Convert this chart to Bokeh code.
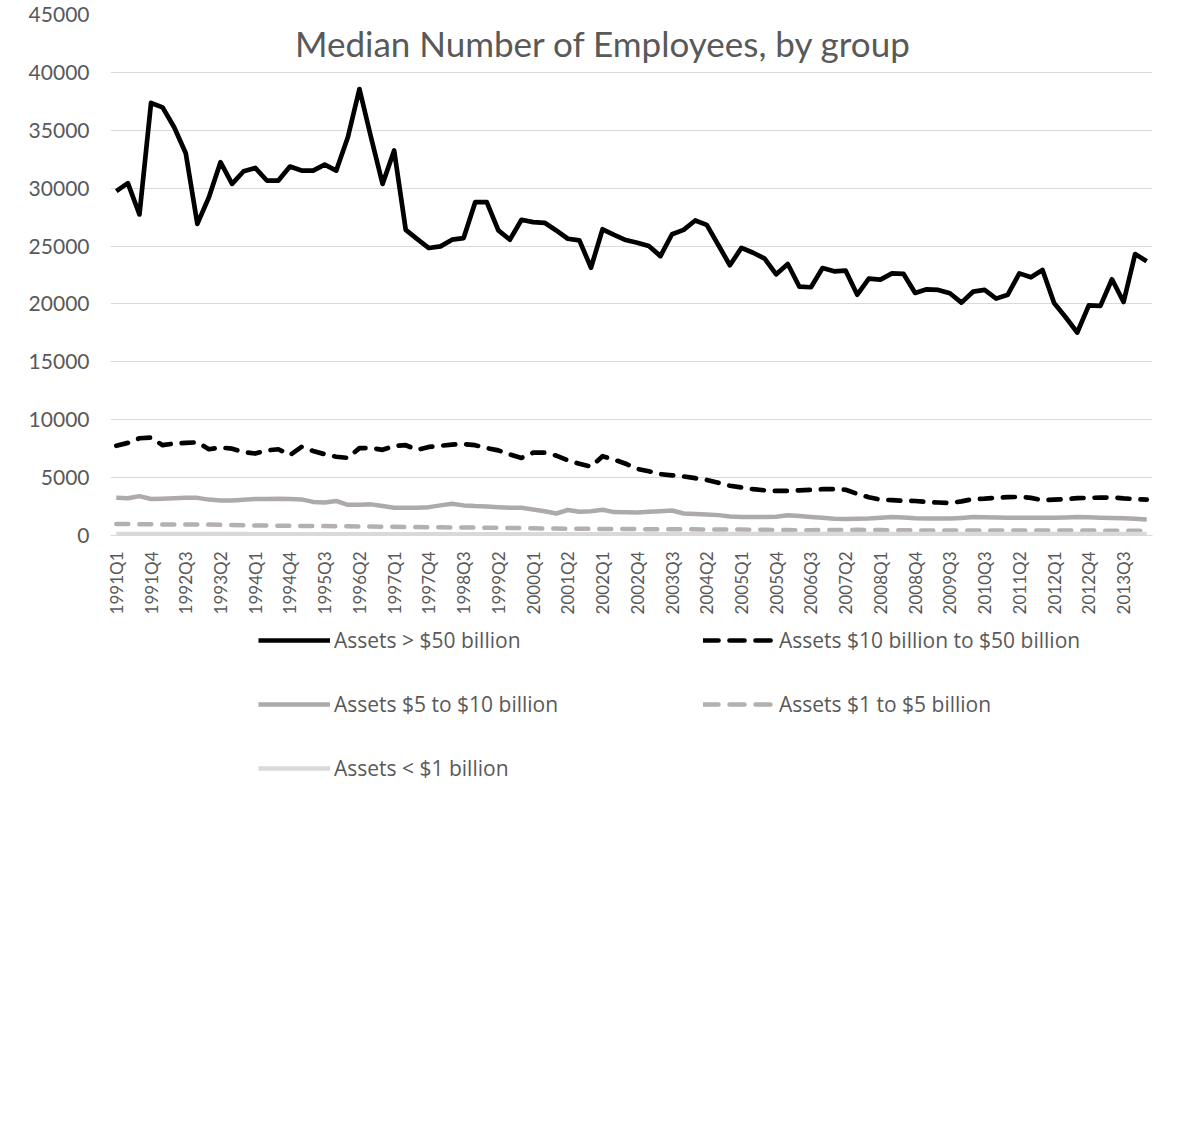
import math
from bokeh.plotting import figure
from bokeh.layouts import column
from bokeh.models import Range1d, FixedTicker, Legend, LegendItem, Label, BasicTickFormatter
from bokeh.embed import file_html
from bokeh.resources import INLINE

# ---------------- data ----------------
tick_labels = ["1991Q1", "1991Q4", "1992Q3", "1993Q2", "1994Q1", "1994Q4", "1995Q3",
               "1996Q2", "1997Q1", "1997Q4", "1998Q3", "1999Q2", "2000Q1", "2001Q2",
               "2002Q1", "2002Q4", "2003Q3", "2004Q2", "2005Q1", "2005Q4", "2006Q3",
               "2007Q2", "2008Q1", "2008Q4", "2009Q3", "2010Q3", "2011Q2", "2012Q1",
               "2012Q4", "2013Q3"]

assets_gt50 = [29740, 30430, 27730, 37360, 36980, 35260, 33020, 26920, 29220, 32240,
               30370, 31460, 31750, 30660, 30660, 31870, 31520, 31520, 32040, 31520,
               34400, 38560, 34400, 30370, 33250, 26400, 25600, 24830, 24970, 25550,
               25690, 28790, 28790, 26350, 25550, 27270, 27070, 27010, 26350, 25630,
               25490, 23130, 26450, 25960, 25520, 25290, 25000, 24130, 26020, 26400,
               27210, 26830, 25090, 23340, 24850, 24420, 23920, 22560, 23450, 21490,
               21440, 23100, 22820, 22870, 20800, 22180, 22100, 22640, 22590, 20950,
               21260, 21210, 20920, 20110, 21060, 21210, 20460, 20800, 22640, 22300,
               22930, 20080, 18850, 17530, 19880, 19830, 22130, 20170, 24310, 23680]

assets_10_50 = [7750, 8000, 8400, 8450, 7800, 7950, 8000, 8050, 7450, 7600,
                7500, 7200, 7080, 7350, 7450, 6950, 7650, 7300, 7020, 6800,
                6700, 7550, 7550, 7400, 7750, 7800, 7400, 7650, 7750, 7850,
                7900, 7800, 7550, 7350, 7000, 6700, 7150, 7150, 6900, 6500,
                6200, 5950, 6850, 6550, 6200, 5750, 5550, 5300, 5200, 5100,
                4950, 4800, 4550, 4300, 4150, 4000, 3900, 3850, 3850, 3900,
                3950, 4000, 4000, 3950, 3600, 3300, 3100, 3050, 3000, 2980,
                2900, 2850, 2800, 2950, 3150, 3180, 3250, 3320, 3330, 3250,
                3050, 3100, 3150, 3230, 3250, 3270, 3280, 3200, 3150, 3100]

assets_5_10 = [3270, 3210, 3400, 3150, 3180, 3210, 3250, 3250, 3100, 3030,
               3030, 3080, 3150, 3160, 3180, 3150, 3120, 2900, 2850, 2980,
               2650, 2650, 2690, 2550, 2400, 2400, 2400, 2450, 2600, 2750,
               2600, 2540, 2510, 2450, 2400, 2400, 2250, 2100, 1900, 2200,
               2050, 2100, 2230, 2020, 2000, 1990, 2050, 2100, 2160, 1900,
               1850, 1820, 1760, 1650, 1590, 1590, 1590, 1620, 1750, 1680,
               1600, 1530, 1450, 1420, 1440, 1470, 1530, 1590, 1550, 1480,
               1470, 1470, 1470, 1520, 1590, 1570, 1550, 1540, 1530, 1530,
               1530, 1530, 1560, 1590, 1570, 1540, 1510, 1500, 1450, 1390]

assets_1_5 = [1000, 990, 980, 970, 960, 950, 950, 950, 940, 920,
              900, 890, 870, 860, 850, 840, 830, 820, 810, 800,
              790, 780, 770, 760, 750, 740, 730, 720, 710, 700,
              690, 680, 670, 660, 650, 640, 630, 610, 600, 590,
              580, 570, 570, 560, 560, 550, 550, 550, 540, 540,
              530, 520, 520, 510, 510, 500, 490, 480, 470, 460,
              460, 470, 480, 480, 490, 480, 470, 460, 450, 440,
              440, 440, 430, 430, 430, 440, 440, 440, 440, 440,
              440, 430, 430, 430, 430, 420, 420, 410, 410, 400]

assets_lt1 = [120, 120, 125, 125, 130, 130, 130, 125, 125, 120,
              120, 120, 115, 115, 115, 110, 110, 110, 110, 105,
              105, 105, 105, 100, 100, 100, 100, 100, 100, 100,
              100, 100, 100, 100, 100, 100, 100, 100, 100, 100,
              100, 100, 105, 105, 105, 110, 110, 110, 110, 115,
              115, 115, 120, 120, 120, 125, 125, 130, 130, 130,
              135, 135, 135, 140, 140, 140, 140, 140, 140, 140,
              140, 140, 140, 140, 140, 140, 140, 140, 140, 140,
              140, 140, 140, 140, 140, 140, 140, 140, 140, 140]

series_names = ["Assets > $50 billion", "Assets $10 billion to $50 billion",
                "Assets $5 to $10 billion", "Assets $1 to $5 billion",
                "Assets < $1 billion"]
title_text = "Median Number of Employees, by group"

# ---------------- styles ----------------
FONT = "Lato"
LEG_FONT = "Open Sans"
TXT = "#595959"
styles = [
    dict(line_color="#000000", line_width=4.7, line_join="round"),
    dict(line_color="#000000", line_width=4.7, line_join="round", line_cap="round", line_dash="12 11"),
    dict(line_color="#aeaaaa", line_width=4.5, line_join="round"),
    dict(line_color="#b4b0b0", line_width=4.5, line_join="round", line_cap="round", line_dash="12 11"),
    dict(line_color="#d9d9d9", line_width=4.5, line_join="round"),
]
all_series = [assets_gt50, assets_10_50, assets_5_10, assets_1_5, assets_lt1]

# ---------------- main chart ----------------
n = len(assets_gt50)
x = list(range(n))
LEFT, FW, RIGHT = 110, 1042, 42

p = figure(frame_width=FW, frame_height=521,
           min_border_left=LEFT, min_border_right=RIGHT,
           min_border_top=14, min_border_bottom=90,
           x_range=Range1d(-0.5, n - 0.5), y_range=Range1d(0, 45000),
           output_backend="svg", toolbar_location=None)
p.outline_line_color = None
p.xgrid.grid_line_color = None
p.ygrid.grid_line_color = "#d9d9d9"
p.ygrid.grid_line_width = 1

p.yaxis.ticker = FixedTicker(ticks=list(range(0, 45001, 5000)))
p.yaxis.formatter = BasicTickFormatter(use_scientific=False)
p.yaxis.axis_line_color = None
p.yaxis.major_tick_line_color = None
p.yaxis.minor_tick_line_color = None
p.yaxis.major_tick_out = 0
p.yaxis.major_label_standoff = 21
p.yaxis.major_label_text_font = FONT
p.yaxis.major_label_text_font_size = "21px"
p.yaxis.major_label_text_color = TXT

tick_pos = list(range(0, 3 * len(tick_labels), 3))
p.xaxis.ticker = FixedTicker(ticks=tick_pos)
p.xaxis.major_label_overrides = {t: lab for t, lab in zip(tick_pos, tick_labels)}
p.xaxis.major_label_orientation = math.pi / 2
p.xaxis.axis_line_color = "#d9d9d9"
p.xaxis.major_tick_line_color = None
p.xaxis.minor_tick_line_color = None
p.xaxis.major_tick_out = 0
p.xaxis.major_label_standoff = 16
p.xaxis.major_label_text_font = FONT
p.xaxis.major_label_text_font_size = "17px"
p.xaxis.major_label_text_color = TXT

for ys, st in zip(all_series, styles):
    p.line(x, ys, **st)

title = Label(x=-0.5 + (493 / FW) * n, y=42500, text=title_text,
              text_align="center", text_baseline="middle",
              text_font=FONT, text_font_size="35px", text_color=TXT)
p.add_layout(title)

# ---------------- legend panel (same series, drawn out of view) ----------------
H2 = 500
q = figure(frame_width=FW, frame_height=H2,
           min_border_left=LEFT, min_border_right=RIGHT,
           min_border_top=0, min_border_bottom=0,
           x_range=Range1d(-0.5, n - 0.5), y_range=Range1d(-3, -2),
           output_backend="svg", toolbar_location=None)
q.axis.visible = False
q.grid.visible = False
q.outline_line_color = None
leg_styles = [dict(st) for st in styles]
leg_styles[1]["line_dash"] = "15 11"
leg_styles[3]["line_dash"] = "15 11"
leg_r = [q.line(x, ys, **st) for ys, st in zip(all_series, leg_styles)]

common = dict(glyph_width=72, glyph_height=30, label_height=30, spacing=34,
              padding=0, margin=0, label_standoff=4,
              background_fill_alpha=0, border_line_alpha=0,
              label_text_font=LEG_FONT, label_text_font_size="21px",
              label_text_color=TXT)
legA = Legend(items=[LegendItem(label=series_names[0], renderers=[leg_r[0]]),
                     LegendItem(label=series_names[2], renderers=[leg_r[2]]),
                     LegendItem(label=series_names[4], renderers=[leg_r[4]])],
              location=(258 - LEFT, H2 - 158), **common)
legB = Legend(items=[LegendItem(label=series_names[1], renderers=[leg_r[1]]),
                     LegendItem(label=series_names[3], renderers=[leg_r[3]])],
              location=(703 - LEFT, H2 - 94), **common)
q.add_layout(legA)
q.add_layout(legB)

layout = column(p, q, spacing=0)
open("out.html", "w").write(file_html(layout, INLINE))
